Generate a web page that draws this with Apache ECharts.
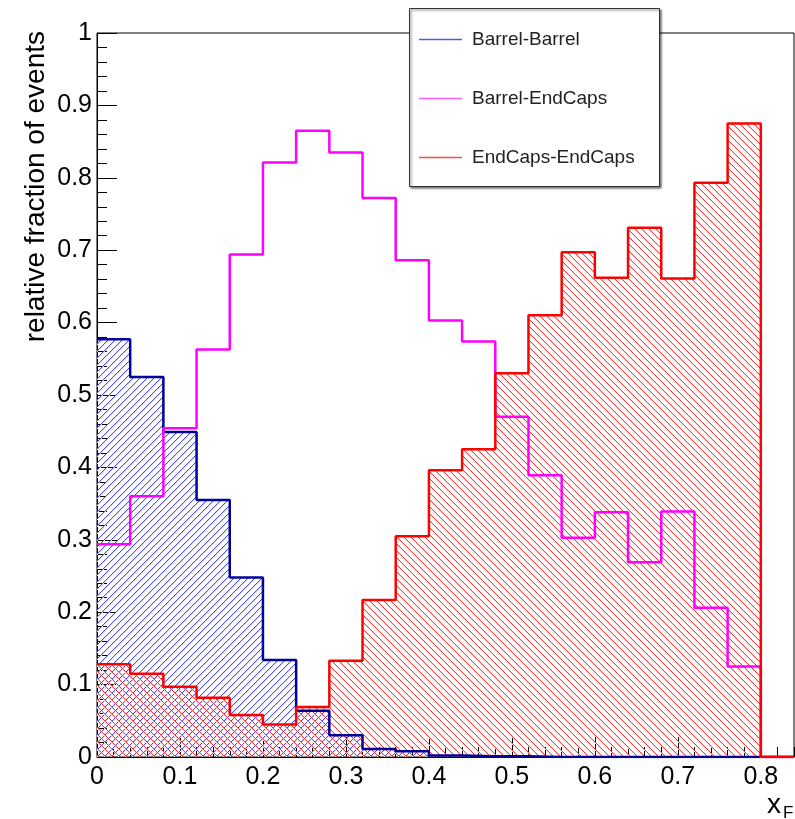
<!DOCTYPE html>
<html><head><meta charset="utf-8">
<script src="https://cdn.jsdelivr.net/npm/echarts@6/dist/echarts.min.js"></script>
<style>html,body{margin:0;padding:0;background:#fff}#c{width:795px;height:819px}</style>
</head><body><div id="c"></div>
<script>
// ---- data ----
const binLow = [0.00,0.04,0.08,0.12,0.16,0.20,0.24,0.28,0.32,0.36,0.40,0.44,0.48,0.52,0.56,0.60,0.64,0.68,0.72,0.76,0.80];
const xMax = 0.84;
const barrelBarrel   = [0.577,0.525,0.449,0.355,0.248,0.134,0.064,0.030,0.011,0.008,0.002,0.001,0.001,0,0,0,0,0,0,0,0];
const barrelEndCaps  = [0.294,0.360,0.454,0.563,0.694,0.821,0.865,0.835,0.772,0.686,0.603,0.574,0.470,0.389,0.303,0.338,0.269,0.339,0.206,0.125,0];
const endCapsEndCaps = [0.128,0.115,0.097,0.082,0.058,0.045,0.069,0.133,0.217,0.305,0.396,0.425,0.530,0.610,0.697,0.662,0.731,0.661,0.793,0.875,0];
const seriesNames = ['Barrel-Barrel','Barrel-EndCaps','EndCaps-EndCaps'];
const yTitle = 'relative fraction of events';

const FONT = '"Liberation Sans", Arial, Helvetica, sans-serif';

// 45-degree hatch tile: 1px core line with a faint halo
function hatch(core, halo, dir) {
  const s = 7;
  const c = document.createElement('canvas');
  c.width = s; c.height = s;
  const g = c.getContext('2d');
  for (let i = 0; i < s; i++) {
    const y = dir === '/' ? (s - 1 - i) : i;
    g.fillStyle = halo;
    g.fillRect(i, (y + 1) % s, 1, 1);
    g.fillStyle = core;
    g.fillRect(i, y, 1, 1);
  }
  return { image: c, repeat: 'repeat' };
}

function stepData(vals) {
  const d = binLow.map((x, i) => [x, vals[i]]);
  d.push([xMax, vals[vals.length - 1]]);
  return d;
}

const chart = echarts.init(document.getElementById('c'), null, { renderer: 'canvas' });
chart.setOption({
  animation: false,
  backgroundColor: '#fff',
  grid: { left: 97, right: 1, top: 33, bottom: 62, show: true, borderColor: '#000', borderWidth: 1, backgroundColor: 'transparent' },
  xAxis: [{
    type: 'value', min: 0, max: xMax, interval: 0.1, position: 'bottom',
    axisLine: { show: true, onZero: false, lineStyle: { color: '#000', width: 1 } },
    axisTick: { show: true, inside: true, length: 20, lineStyle: { color: '#000' } },
    minorTick: { show: false },
    splitLine: { show: false },
    axisLabel: { show: true, margin: 8, color: '#000', fontSize: 25, fontFamily: FONT, showMaxLabel: false }
  }, {
    type: 'value', min: 0, max: xMax, interval: 0.02, position: 'bottom', offset: 0,
    axisLine: { show: false },
    axisTick: { show: true, inside: true, length: 10, lineStyle: { color: '#000' } },
    splitLine: { show: false },
    axisLabel: { show: false }
  }],
  yAxis: {
    type: 'value', min: 0, max: 1, interval: 0.1,
    axisLine: { show: true, onZero: false, lineStyle: { color: '#000', width: 1 } },
    axisTick: { show: true, inside: true, length: 20, lineStyle: { color: '#000' } },
    minorTick: { show: true, splitNumber: 5, length: 10, lineStyle: { color: '#000' } },
    splitLine: { show: false },
    axisLabel: { margin: 5, color: '#000', fontSize: 25, fontFamily: FONT }
  },
  legend: {
    orient: 'vertical', left: 419, top: 28.5, z: 20, padding: 0,
    itemWidth: 43, itemHeight: 1.5, itemGap: 37, icon: 'rect',
    selectedMode: false,
    textStyle: { fontSize: 19, lineHeight: 22, color: '#222', fontFamily: FONT, padding: [0, 0, 0, 5] },
    data: [
      { name: seriesNames[0], itemStyle: { color: '#5a5ad8' } },
      { name: seriesNames[1], itemStyle: { color: '#ff5cff' } },
      { name: seriesNames[2], itemStyle: { color: '#ff4a4a' } }
    ]
  },
  graphic: [
    { type: 'rect', z: 15, shape: { x: 409.5, y: 8.5, width: 250, height: 178 },
      style: { fill: '#fff', stroke: '#333', lineWidth: 1, shadowColor: 'rgba(0,0,0,0.55)', shadowBlur: 2, shadowOffsetX: 1.5, shadowOffsetY: 1.5 } },
    { type: 'text', z: 15, x: 36, y: 31, rotation: Math.PI / 2,
      style: { text: yTitle, fontSize: 28, fontFamily: FONT, fill: '#000', align: 'right', verticalAlign: 'middle' } },
    { type: 'text', z: 15, x: 767, y: 805,
      style: { text: 'x', fontSize: 28, fontFamily: FONT, fill: '#000', align: 'left', verticalAlign: 'middle' } },
    { type: 'text', z: 15, x: 783, y: 813,
      style: { text: 'F', fontSize: 17, fontFamily: FONT, fill: '#000', align: 'left', verticalAlign: 'middle' } }
  ],
  series: [
    { name: seriesNames[0], type: 'line', step: 'end', symbol: 'none', silent: true,
      data: stepData(barrelBarrel),
      itemStyle: { color: '#000099' },
      lineStyle: { color: '#000099', width: 2.5 },
      areaStyle: { color: hatch('#4a4af2', '#d8d8fc', '/'), opacity: 1 } },
    { name: seriesNames[1], type: 'line', step: 'end', symbol: 'none', silent: true,
      data: stepData(barrelEndCaps),
      itemStyle: { color: '#ff00ff' },
      lineStyle: { color: '#ff00ff', width: 2.5 } },
    { name: seriesNames[2], type: 'line', step: 'end', symbol: 'none', silent: true,
      data: stepData(endCapsEndCaps),
      itemStyle: { color: '#ff0000' },
      lineStyle: { color: '#ff0000', width: 2.5 },
      areaStyle: { color: hatch('#ff3636', '#ffd4d4', '\\'), opacity: 1 } }
  ]
});
</script>
</body></html>
